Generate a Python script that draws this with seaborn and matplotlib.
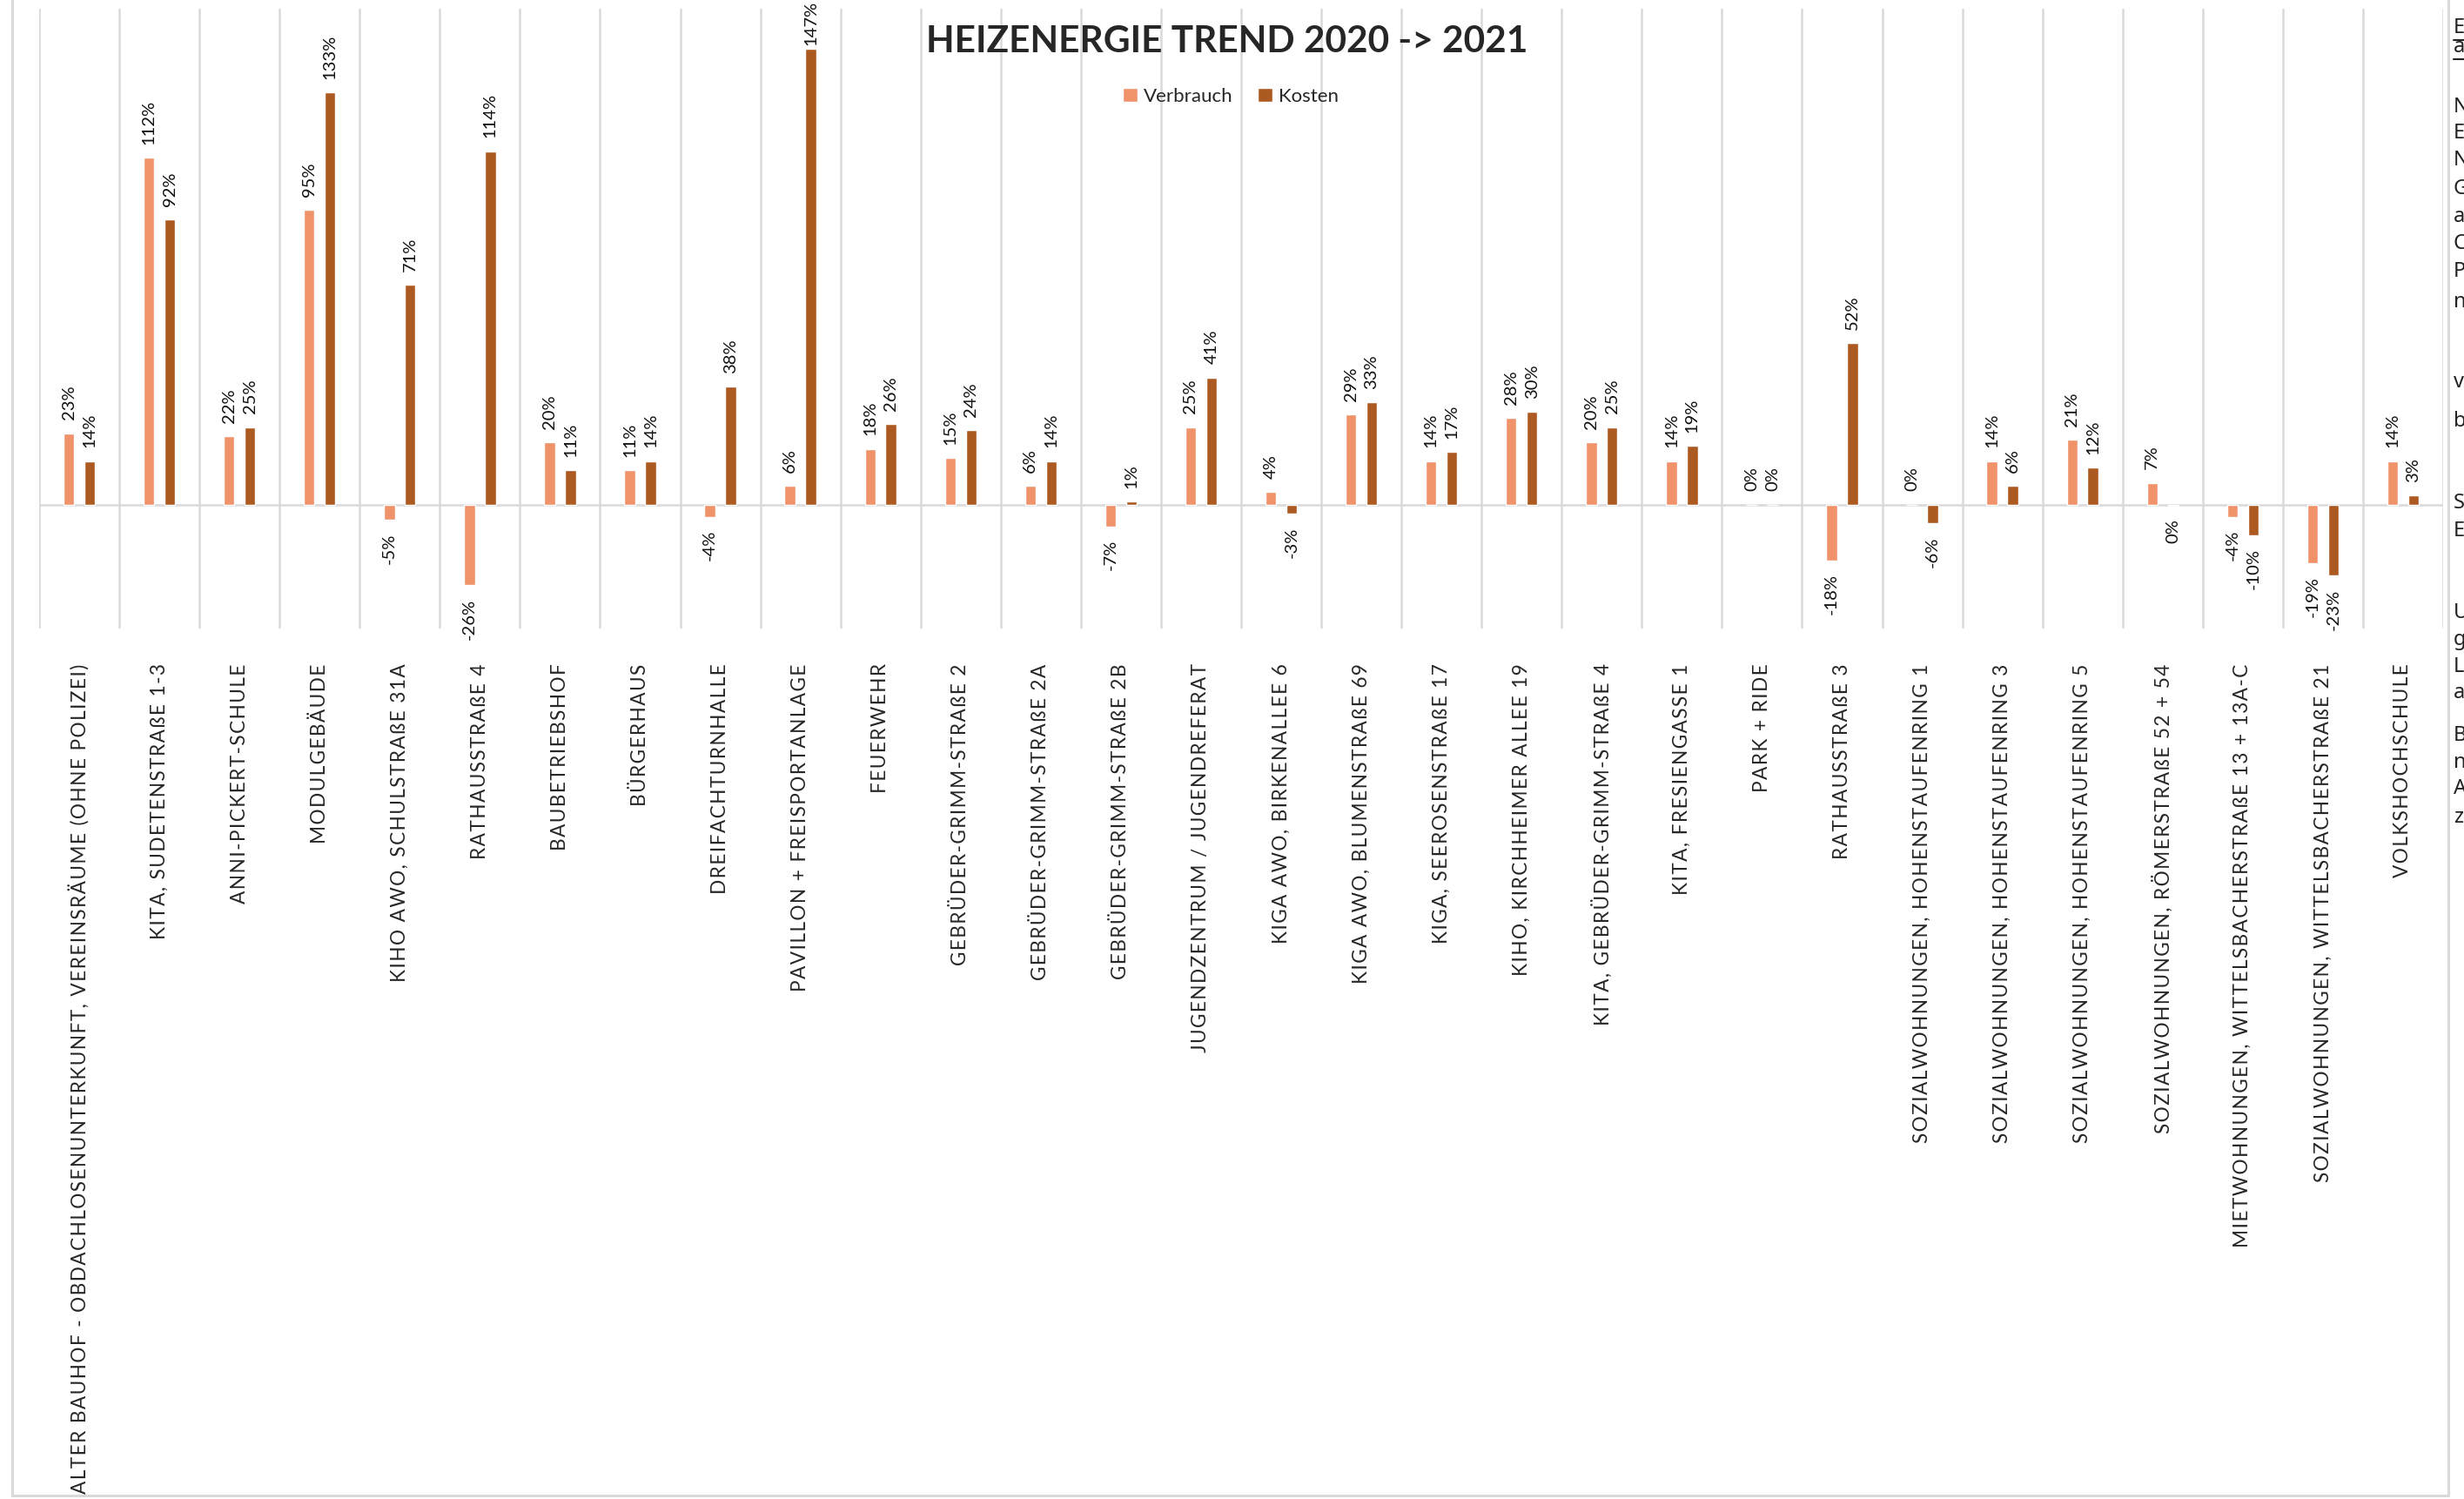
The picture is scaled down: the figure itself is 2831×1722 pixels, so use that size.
import numpy as np
import pandas as pd
import matplotlib
matplotlib.use("Agg")
import matplotlib.pyplot as plt
from matplotlib.lines import Line2D
import seaborn as sns


# Data
gebaeude = [
    "ALTER BAUHOF - OBDACHLOSENUNTERKUNFT, VEREINSRÄUME (OHNE POLIZEI)",
    "KITA, SUDETENSTRAßE 1-3",
    "ANNI-PICKERT-SCHULE",
    "MODULGEBÄUDE",
    "KIHO AWO, SCHULSTRAßE 31A",
    "RATHAUSSTRAßE 4",
    "BAUBETRIEBSHOF",
    "BÜRGERHAUS",
    "DREIFACHTURNHALLE",
    "PAVILLON + FREISPORTANLAGE",
    "FEUERWEHR",
    "GEBRÜDER-GRIMM-STRAßE 2",
    "GEBRÜDER-GRIMM-STRAßE 2A",
    "GEBRÜDER-GRIMM-STRAßE 2B",
    "JUGENDZENTRUM / JUGENDREFERAT",
    "KIGA AWO, BIRKENALLEE 6",
    "KIGA AWO, BLUMENSTRAßE 69",
    "KIGA, SEEROSENSTRAßE 17",
    "KIHO, KIRCHHEIMER ALLEE 19",
    "KITA, GEBRÜDER-GRIMM-STRAßE 4",
    "KITA, FRESIENGASSE 1",
    "PARK + RIDE",
    "RATHAUSSTRAßE 3",
    "SOZIALWOHNUNGEN, HOHENSTAUFENRING 1",
    "SOZIALWOHNUNGEN, HOHENSTAUFENRING 3",
    "SOZIALWOHNUNGEN, HOHENSTAUFENRING 5",
    "SOZIALWOHNUNGEN, RÖMERSTRAßE 52 + 54",
    "MIETWOHNUNGEN, WITTELSBACHERSTRAßE 13 + 13A-C",
    "SOZIALWOHNUNGEN, WITTELSBACHERSTRAßE 21",
    "VOLKSHOCHSCHULE",
]
verbrauch = [23, 112, 22, 95, -5, -26, 20, 11, -4, 6, 18, 15, 6, -7, 25,
             4, 29, 14, 28, 20, 14, 0, -18, 0, 14, 21, 7, -4, -19, 14]
kosten = [14, 92, 25, 133, 71, 114, 11, 14, 38, 147, 26, 24, 14, 1, 41,
          -3, 33, 17, 30, 25, 19, 0, 52, -6, 6, 12, -0.3, -10, -23, 3]
reihen = ["Verbrauch", "Kosten"]
farben = ["#F0926A", "#AD5A22"]

# cut-off text of the neighbouring text box on the right edge
rand_buchstaben = ["E", "a", "N", "E", "N", "G", "a", "C", "P", "n", "v", "b",
                   "S", "E", "U", "g", "L", "a", "B", "n", "A", "z"]
rand_y = [32, 54, 123, 153, 184, 217, 249, 280, 312, 347, 439, 484,
          578, 610, 704, 735, 766, 796, 845, 876, 906, 939]

df = pd.DataFrame({
    "Gebäude": gebaeude * 2,
    "Reihe": ["Verbrauch"] * len(gebaeude) + ["Kosten"] * len(gebaeude),
    "Wert": verbrauch + kosten,
})

sns.set_style("white")
plt.rcParams["font.family"] = ["Lato", "DejaVu Sans"]

W, H = 2831, 1722
fig = plt.figure(figsize=(W / 100, H / 100), dpi=100)
ax = fig.add_axes([45 / W, 1 - 722 / H, 2762 / W, 712 / H])

sns.barplot(data=df, x="Gebäude", y="Wert", hue="Reihe", order=gebaeude,
            hue_order=reihen, palette=farben, saturation=1, errorbar=None,
            width=0.52, gap=0.48, ax=ax)

ax.set_xlim(-0.5, len(gebaeude) - 0.5)
ax.set_ylim(-40, 160)

# gridlines between categories + zero line
grau = "#D9D9D9"
ax.set_xticks(np.arange(-0.5, len(gebaeude), 1), minor=True)
ax.grid(which="minor", axis="x", color=grau, lw=1.8)
ax.grid(which="major", visible=False)
ax.axhline(0, color=grau, lw=1.8, zorder=0.5)
ax.set_axisbelow(True)
sns.despine(ax=ax, left=True, bottom=True)
ax.set_yticks([])
ax.set_xlabel("")
ax.set_ylabel("")
ax.tick_params(which="both", length=0)
ax.tick_params(axis="x", pad=29)
ax.set_xticks(range(len(gebaeude)))
# spaced-out capitals like the original
gesperrt = ["\u200a".join(t) for t in gebaeude]
ax.set_xticklabels(gesperrt, rotation=90, fontsize=16.3, va="top", ha="center")

# data labels
def fmt(v):
    r = round(v)
    return "0%" if r == 0 else f"{r}%"

for cont, werte in zip(ax.containers, [verbrauch, kosten]):
    texte = ax.bar_label(cont, labels=[fmt(v) for v in werte], rotation=90,
                         padding=11, fontsize=14.5, color="#111111")
    for t, v in zip(texte, werte):
        if v > 140:  # pushed down to stay inside the chart
            t.xyann = (0, 3)

# legend
sns.move_legend(ax, "center", bbox_to_anchor=(1414 / W, 1 - 111 / H),
                bbox_transform=fig.transFigure, ncol=2, title=None,
                frameon=False, fontsize=16, handlelength=0.75,
                handleheight=0.75, handletextpad=0.3, columnspacing=1.3)

# title
fig.text(1410 / W, 1 - 48 / H, "HEIZENERGIE TREND 2020 -> 2021",
         ha="center", va="center", fontsize=30.5, fontweight="bold")

# chart border
for xs, ys in [([14, 14], [0, 1718]), ([14, 2813], [1718, 1718]),
               ([2813, 2813], [0, 1718])]:
    fig.add_artist(Line2D([x / W for x in xs], [1 - y / H for y in ys],
                          color=grau, lw=2.2))

for b, y in zip(rand_buchstaben, rand_y):
    fig.text(2819 / W, 1 - y / H, b, ha="left", va="center", fontsize=17,
             family="Noto Sans", color="#222222")
for y in rand_y[:2]:
    fig.add_artist(Line2D([2819 / W, 1], [1 - (y + 14) / H] * 2,
                          color="#222222", lw=1.5))

fig.savefig("out.png", dpi=100)
